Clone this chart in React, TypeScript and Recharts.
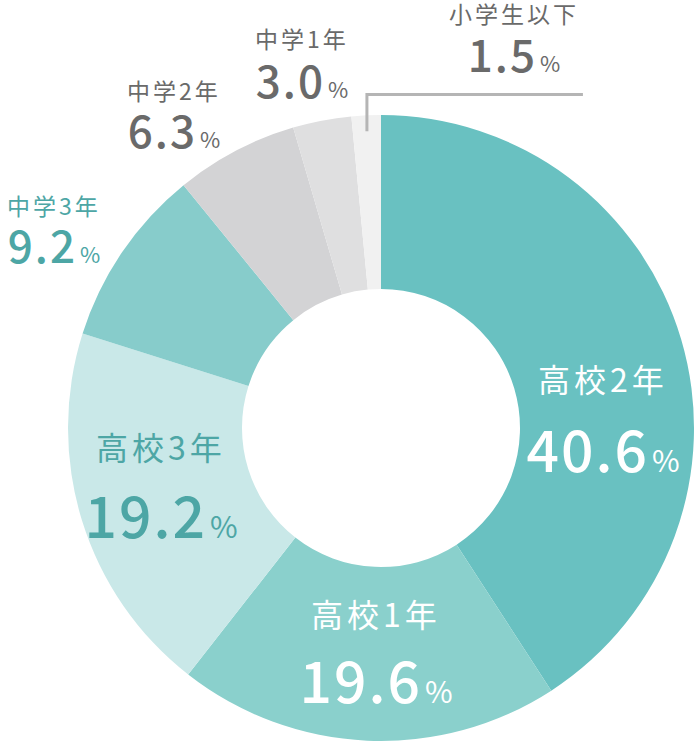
import React from 'react';
import { PieChart, Pie, Cell } from 'recharts';

// 学年別の構成比 (%)
const grades = ['高校2年', '高校1年', '高校3年', '中学3年', '中学2年', '中学1年', '小学生以下'];
const shares = [40.6, 19.6, 19.2, 9.2, 6.3, 3.0, 1.5];

const sliceColors = ['#69C1C1', '#8AD0CC', '#C9E8E8', '#87CCCB', '#D3D3D5', '#DFDFE0', '#F1F1F1'];

const TEAL = '#4DA6A5';
const GRAY = '#6A6A6A';
const FONT = '"Noto Sans CJK JP", "Noto Sans", sans-serif';

// ラベルの配置 (名前のベースライン / 数値のベースライン / 中心x)
const labelLayout: Record<string, { x: number; nameY: number; numY: number; big: boolean; color: string }> = {
  高校2年: { x: 603, nameY: 392, numY: 472, big: true, color: '#FFFFFF' },
  高校1年: { x: 376, nameY: 627, numY: 703, big: true, color: '#FFFFFF' },
  高校3年: { x: 161, nameY: 460, numY: 538, big: true, color: TEAL },
  中学3年: { x: 54, nameY: 215, numY: 263, big: false, color: TEAL },
  中学2年: { x: 174, nameY: 100, numY: 148, big: false, color: GRAY },
  中学1年: { x: 302, nameY: 48, numY: 98, big: false, color: GRAY },
  小学生以下: { x: 514, nameY: 23, numY: 72, big: false, color: GRAY },
};

const data = grades.map((name, i) => ({ name, value: shares[i] }));

const RADIAN = Math.PI / 180;

const renderLabel = (props: any) => {
  const { name, value, midAngle, cx, cy, index } = props;
  const l = labelLayout[name];
  if (!l) return null;

  // 小学生以下はリーダー線つき
  let leader = null;
  if (name === '小学生以下') {
    const cos = Math.cos(-midAngle * RADIAN);
    const sin = Math.sin(-midAngle * RADIAN);
    const x = cx + 297 * cos;
    const y1 = cy + 297 * sin;
    const y2 = cy + 334 * sin;
    leader = (
      <path
        d={`M${x},${y1} L${x},${y2} L${x + 216},${y2}`}
        fill="none"
        stroke="#B5B5B5"
        strokeWidth={3}
      />
    );
  }

  return (
    <g key={`lbl-${index}`} style={{ fontFamily: FONT }}>
      {leader}
      <text
        x={l.x}
        y={l.nameY}
        textAnchor="middle"
        fill={l.color}
        fontSize={l.big ? 32 : 23}
        letterSpacing={l.big ? 4 : 3}
      >
        {name}
      </text>
      <text x={l.x} y={l.numY} textAnchor="middle" fill={l.color}>
        <tspan fontSize={l.big ? 57 : 44} fontWeight={500} letterSpacing={2}>
          {value.toFixed(1)}
        </tspan>
        <tspan fontSize={l.big ? 30 : 22} dx={3}>
          %
        </tspan>
      </text>
    </g>
  );
};

export default function App() {
  return (
    <div style={{ position: 'absolute', left: 0, top: 0, width: 696, height: 745, background: '#fff' }}>
      <PieChart width={696} height={745} margin={{ top: 0, right: 0, bottom: 0, left: 0 }}>
        <Pie
          data={data}
          dataKey="value"
          nameKey="name"
          cx={381}
          cy={428}
          innerRadius={139}
          outerRadius={313}
          startAngle={90}
          endAngle={-270}
          stroke="none"
          label={renderLabel}
          labelLine={false}
          isAnimationActive={false}
        >
          {data.map((d, i) => (
            <Cell key={d.name} fill={sliceColors[i]} />
          ))}
        </Pie>
      </PieChart>
    </div>
  );
}
